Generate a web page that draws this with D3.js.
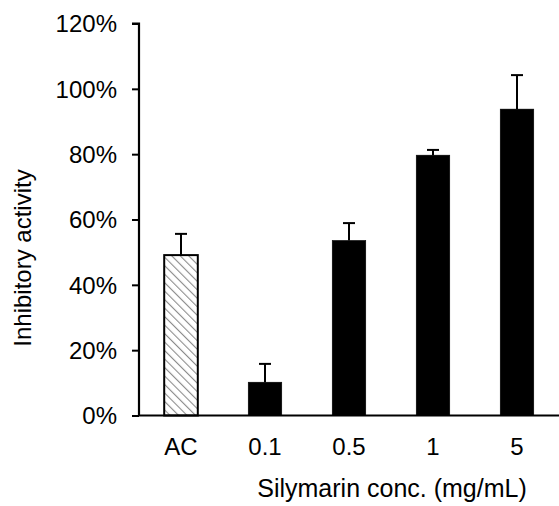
<!DOCTYPE html>
<html><head><meta charset="utf-8">
<script src="https://cdn.jsdelivr.net/npm/d3@7"></script>
<style>body{margin:0;background:#fff}text{font-family:"Liberation Sans",Arial,sans-serif;fill:#000}</style>
</head><body><svg id="c" width="559" height="506"></svg>
<script>
const categories = ["AC", "0.1", "0.5", "1", "5"];
const values = [49.1, 10.2, 53.6, 79.7, 93.8];
const errors = [6.5, 5.6, 5.3, 1.6, 10.4];
const hatched = [true, false, false, false, false];
const yTicks = [0, 20, 40, 60, 80, 100, 120];

const svg = d3.select("#c");
const x0 = 139, x1 = 559, yBottom = 415.5, yTop = 23.5;
const FS = "24px";
const x = d3.scaleBand().domain(categories).range([x0, x1]).paddingInner(0.6).paddingOuter(0.3);
const y = d3.scaleLinear().domain([0, 120]).range([yBottom, yTop]);

const defs = svg.append("defs");
const pat = defs.append("pattern").attr("id", "hatch").attr("patternUnits", "userSpaceOnUse")
  .attr("width", 6).attr("height", 6).attr("patternTransform", "rotate(-45)");
pat.append("rect").attr("width", 6).attr("height", 6).attr("fill", "#fff");
pat.append("line").attr("x1", 0).attr("y1", 0).attr("x2", 0).attr("y2", 6)
  .attr("stroke", "#8c8c8c").attr("stroke-width", 2.2);

// bars
svg.selectAll("rect.bar").data(categories).join("rect").attr("class", "bar")
  .attr("x", d => x(d)).attr("width", x.bandwidth())
  .attr("y", (d, i) => y(values[i])).attr("height", (d, i) => y(0) - y(values[i]))
  .attr("fill", (d, i) => hatched[i] ? "url(#hatch)" : "#000")
  .attr("stroke", "#000").attr("stroke-width", (d, i) => hatched[i] ? 2 : 0.5);

// error bars
const eg = svg.append("g").attr("stroke", "#000").attr("stroke-width", 2);
categories.forEach((c, i) => {
  const cx = x(c) + x.bandwidth() / 2;
  eg.append("line").attr("x1", cx).attr("x2", cx).attr("y1", y(values[i])).attr("y2", y(values[i] + errors[i]));
  eg.append("line").attr("x1", cx - 6).attr("x2", cx + 6).attr("y1", y(values[i] + errors[i])).attr("y2", y(values[i] + errors[i]));
});

// y axis
const ya = d3.axisLeft(y).tickValues(yTicks).tickFormat(d => d + "%").tickSize(7).tickPadding(15);
const yg = svg.append("g").attr("transform", `translate(${x0},0)`).call(ya);
yg.select(".domain").attr("stroke", "#000").attr("stroke-width", 2.2).attr("d", `M-7,${yTop}H0V${yBottom}`);
yg.selectAll(".tick line").attr("stroke", "#000").attr("stroke-width", 2);
yg.selectAll("text").style("font-size", FS).attr("font-family", null).attr("dy", "0.35em");

// x axis
const xa = d3.axisBottom(x).tickSize(0).tickPadding(22);
const xg = svg.append("g").attr("transform", `translate(0,${yBottom})`).call(xa);
xg.select(".domain").attr("stroke", "#000").attr("stroke-width", 2.2).attr("d", `M${x0},0H${x1}`);
xg.selectAll("text").style("font-size", FS).attr("font-family", null);

// titles
svg.append("text").attr("x", 392).attr("y", 497).attr("text-anchor", "middle")
  .style("font-size", "25px").text("Silymarin conc. (mg/mL)");
svg.append("text").attr("transform", "translate(31,258) rotate(-90)").attr("text-anchor", "middle")
  .style("font-size", FS).text("Inhibitory activity");
</script></body></html>
